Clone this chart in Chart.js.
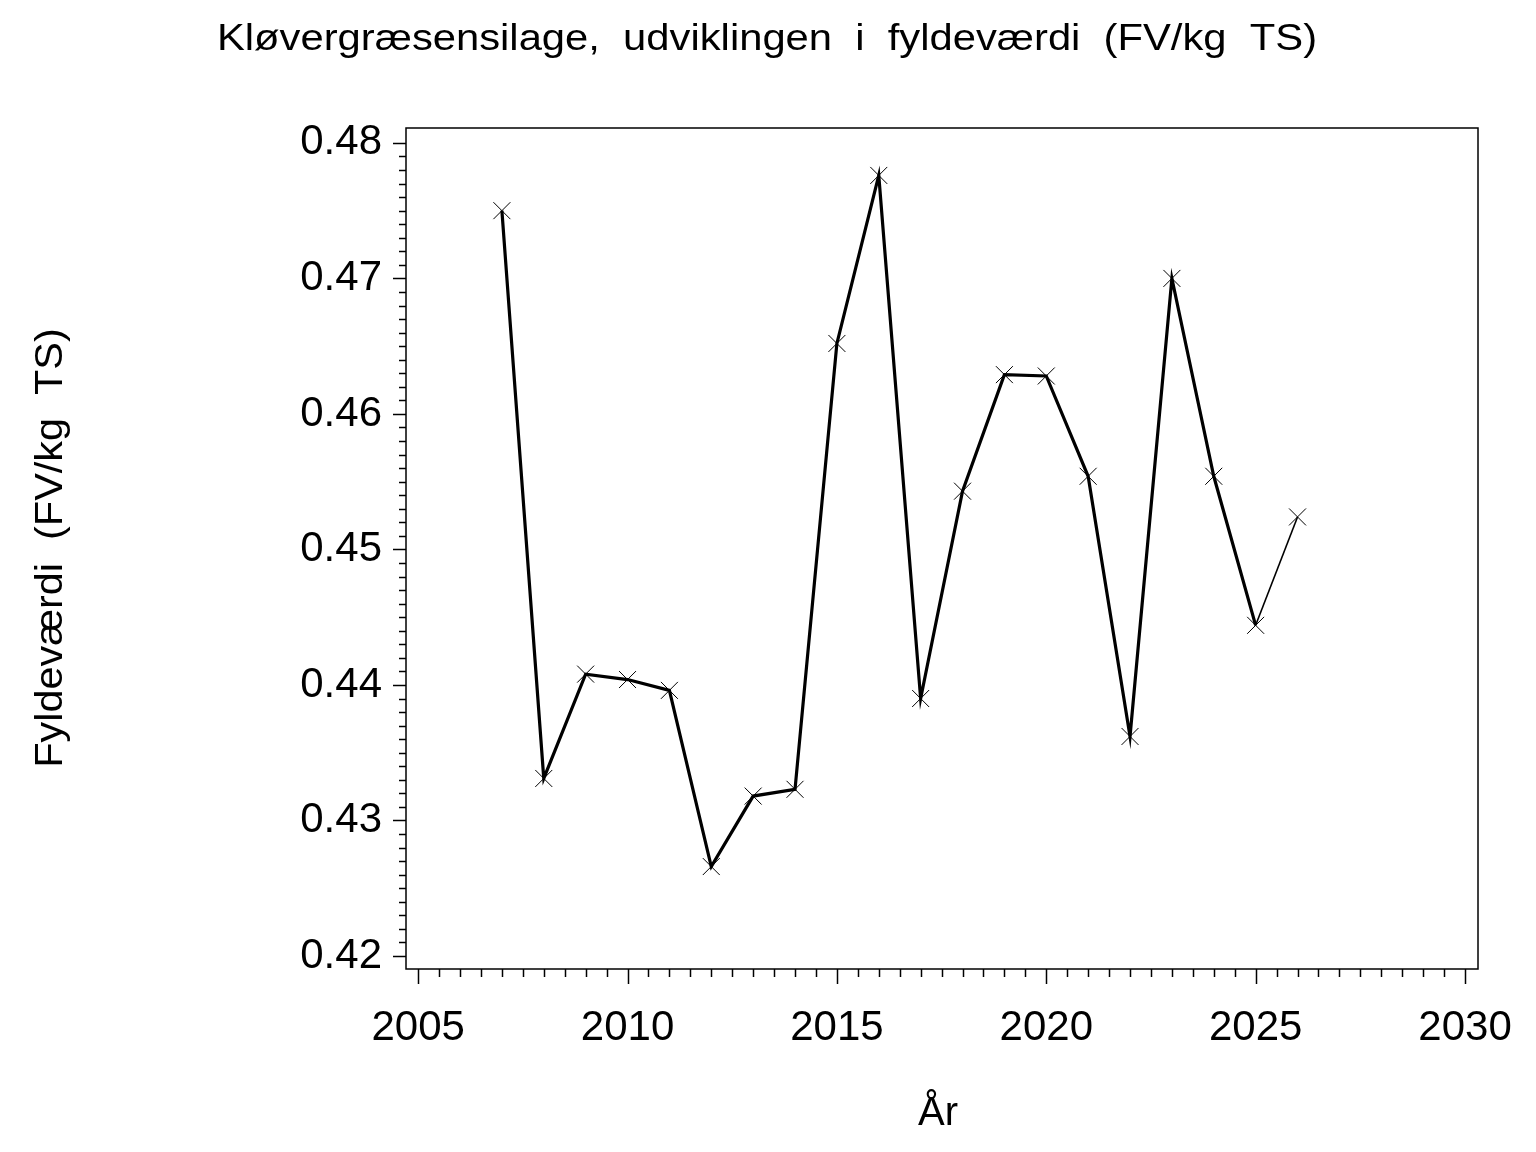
<!DOCTYPE html>
<html>
<head>
<meta charset="utf-8">
<script src="https://cdn.jsdelivr.net/npm/chart.js@4/dist/chart.umd.min.js"></script>
<style>
  body { margin: 0; background: #fff; }
  canvas { display: block; }
</style>
</head>
<body>
<canvas id="chart" width="1536" height="1152"></canvas>
<script>
// Data
const years = [2007, 2008, 2009, 2010, 2011, 2012, 2013, 2014, 2015, 2016,
  2017, 2018, 2019, 2020, 2021, 2022, 2023, 2024, 2025, 2026];
const fyldevaerdi = [0.4750, 0.4331, 0.4408, 0.4404, 0.4396, 0.4266, 0.4318, 0.4323, 0.4652, 0.4776,
  0.4390, 0.4543, 0.4629, 0.4628, 0.4554, 0.4362, 0.4700, 0.4554, 0.4444, 0.4524];

const xTicks = [2005, 2010, 2015, 2020, 2025, 2030];
const yTicks = [0.42, 0.43, 0.44, 0.45, 0.46, 0.47, 0.48];

const FONT = "'Liberation Sans', Arial, Helvetica, sans-serif";

// draw text stretched horizontally (the original font is wider than Arial)
function wideText(ctx, text, x, y, stretch) {
  ctx.save();
  ctx.translate(x, y);
  ctx.scale(stretch, 1);
  ctx.fillText(text, 0, 0);
  ctx.restore();
}

// Frame + tick marks drawn against the chart's own scales
const frameAndTicks = {
  id: "frameAndTicks",
  afterDraw(chart) {
    const { ctx, chartArea: a, scales } = chart;
    ctx.save();
    ctx.strokeStyle = "#000";
    ctx.lineWidth = 1.5;
    ctx.strokeRect(a.left, a.top, a.right - a.left, a.bottom - a.top);

    ctx.beginPath();
    // y ticks: minor every 0.001, major every 0.01
    for (let i = 0; i <= 60; i++) {
      const v = 0.42 + i * 0.001;
      const py = Math.round(scales.y.getPixelForValue(v)) + 0.5;
      const len = i % 10 === 0 ? 13 : 7;
      ctx.moveTo(a.left - len, py);
      ctx.lineTo(a.left, py);
    }
    // x ticks: minor every 0.5 year, major every 5
    for (let i = 0; i <= 50; i++) {
      const v = 2005 + i * 0.5;
      const px = Math.round(scales.x.getPixelForValue(v)) + 0.5;
      const len = i % 10 === 0 ? 15 : 8;
      ctx.moveTo(px, a.bottom);
      ctx.lineTo(px, a.bottom + len);
    }
    ctx.stroke();

    // titles
    ctx.fillStyle = "#000";
    ctx.textAlign = "center";
    ctx.textBaseline = "alphabetic";
    ctx.font = "36px " + FONT;
    wideText(ctx, "Kløvergræsensilage,  udviklingen  i  fyldeværdi  (FV/kg  TS)", 767, 50, 1.16);
    ctx.font = "40px " + FONT;
    ctx.fillText("År", 938, 1125);
    ctx.save();
    ctx.translate(62, 548);
    ctx.rotate(-Math.PI / 2);
    ctx.font = "38px " + FONT;
    wideText(ctx, "Fyldeværdi  (FV/kg  TS)", 0, 0, 1.09);
    ctx.restore();
    ctx.restore();
  }
};

new Chart(document.getElementById("chart"), {
  type: "line",
  data: {
    datasets: [{
      data: years.map((y, i) => ({ x: y, y: fyldevaerdi[i] })),
      borderColor: "#000",
      borderWidth: 3.2,
      tension: 0,
      pointStyle: "crossRot",
      pointRadius: 12,
      pointBorderWidth: 1,
      pointBorderColor: "#000",
      segment: {
        borderWidth: ctx => (ctx.p1DataIndex === years.length - 1 ? 1.6 : 3.2)
      }
    }]
  },
  options: {
    responsive: false,
    devicePixelRatio: 1,
    animation: false,
    layout: { padding: { top: 128, right: 58, left: 0, bottom: 0 } },
    plugins: { legend: { display: false }, tooltip: { enabled: false } },
    scales: {
      x: {
        type: "linear",
        min: 2004.71,
        max: 2030.31,
        afterBuildTicks: s => { s.ticks = xTicks.map(v => ({ value: v })); },
        afterFit: s => { s.height = 183; s.paddingLeft = 0; s.paddingRight = 0; },
        grid: { display: false, drawTicks: false },
        border: { display: false },
        ticks: {
          color: "#000",
          font: { family: FONT, size: 42 },
          padding: 34,
          maxRotation: 0,
          callback: v => String(v)
        }
      },
      y: {
        min: 0.41904,
        max: 0.4811,
        afterBuildTicks: s => { s.ticks = yTicks.map(v => ({ value: v })); },
        afterFit: s => { s.width = 406; s.paddingTop = 0; s.paddingBottom = 0; },
        grid: { display: false, drawTicks: false },
        border: { display: false },
        ticks: {
          color: "#000",
          font: { family: FONT, size: 42 },
          padding: 24,
          callback: v => v.toFixed(2)
        }
      }
    }
  },
  plugins: [frameAndTicks]
});
</script>
</body>
</html>
